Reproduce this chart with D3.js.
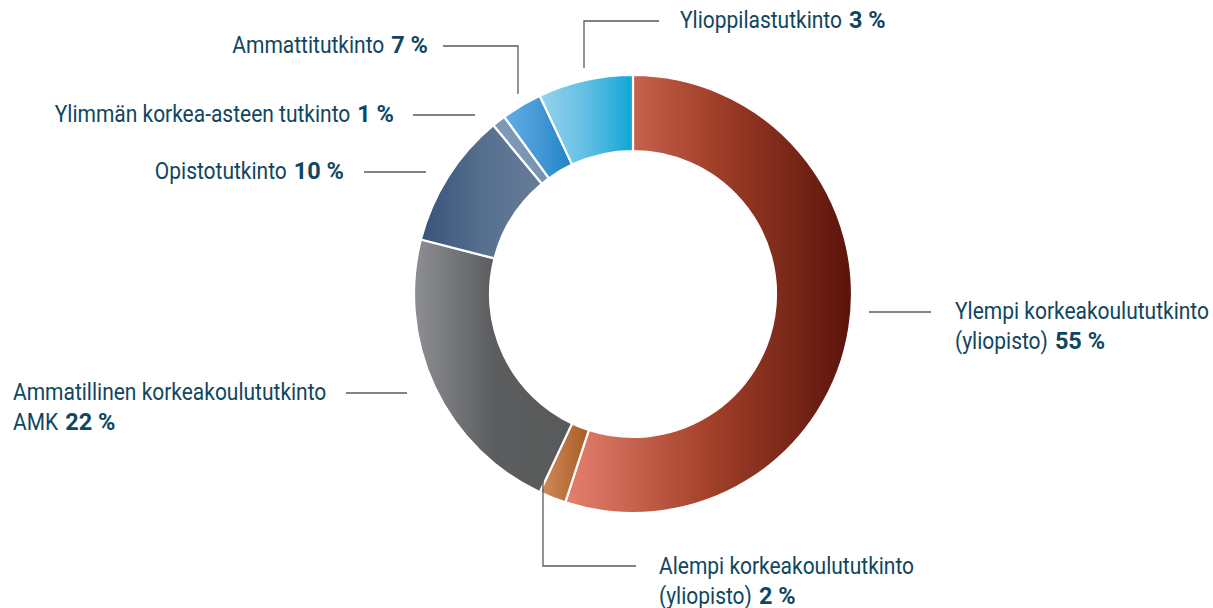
<!DOCTYPE html>
<html><head><meta charset="utf-8">
<script src="https://cdn.jsdelivr.net/npm/d3@7"></script>
<style>
html,body{margin:0;padding:0;background:#fff;}
svg{display:block;}
text{font-family:Roboto,"Liberation Sans",sans-serif;fill:#0f4660;}
</style></head>
<body>
<svg id="chart" width="1213" height="608"></svg>
<script>
// Data (clockwise from 12 o'clock)
const categories = ["Ylempi korkeakoulututkinto (yliopisto)","Alempi korkeakoulututkinto (yliopisto)","Ammatillinen korkeakoulututkinto AMK","Opistotutkinto","Ylimmän korkea-asteen tutkinto","Ammattitutkinto","Ylioppilastutkinto"];
const values = [55, 2, 22, 10, 1, 3, 7];               // slice sizes as drawn
const percentLabels = ["55 %","2 %","22 %","10 %","1 %","7 %","3 %"]; // as printed
const labelLines = [
  ["Ylempi korkeakoulututkinto", "(yliopisto)"],
  ["Alempi korkeakoulututkinto", "(yliopisto)"],
  ["Ammatillinen korkeakoulututkinto", "AMK"],
  ["Opistotutkinto"],
  ["Ylimmän korkea-asteen tutkinto"],
  ["Ammattitutkinto"],
  ["Ylioppilastutkinto"]
];
const gradients = [
  ["#e5806e","#a3412a","#5a130b"],
  ["#d28c5a","#bd7440","#a65e28"],
  ["#8e8f94","#5c5d5f","#58595b"],
  ["#38527a","#566f8e","#667d99"],
  ["#7d9bb9","#7b97b4","#7792ae"],
  ["#62aee4","#4599d6","#1e84c6"],
  ["#96d3ec","#62bfe3","#0ea7d5"]
];

// layout for labels: leader polyline (relative to chart centre) and text anchor
const cx = 633, cy = 294, rOuter = 219, rInner = 143;
const labelLayout = [
  {pts:[[236,18],[298,18]], tx:322, ty:25, anchor:"start"},
  {pts:[[-90,131],[-90,272],[3,272]], tx:26, ty:280, anchor:"start"},
  {pts:[[-226,99],[-287,99]], tx:-620, ty:106, anchor:"start"},
  {pts:[[-207,-122],[-269,-122]], tx:-289, ty:-115, anchor:"end"},
  {pts:[[-158,-179],[-220,-179]], tx:-239, ty:-172, anchor:"end"},
  {pts:[[-115,-200],[-115,-248],[-190,-248]], tx:-205, ty:-241, anchor:"end"},
  {pts:[[-49,-226],[-49,-273],[26,-273]], tx:47, ty:-266, anchor:"start"}
];

const svg = d3.select("#chart");
const defs = svg.append("defs");
gradients.forEach((g,i)=>{
  const lg = defs.append("linearGradient").attr("id","g"+i)
    .attr("x1","0%").attr("x2","100%").attr("y1","0%").attr("y2","0%");
  lg.selectAll("stop").data(g).join("stop")
    .attr("offset",(d,j)=> (j/(g.length-1)*100)+"%")
    .attr("stop-color",d=>d);
});

const pie = d3.pie().sort(null).value(d=>d);
const arc = d3.arc().innerRadius(rInner).outerRadius(rOuter);
const g = svg.append("g").attr("transform",`translate(${cx},${cy})`);
g.selectAll("path.slice").data(pie(values)).join("path")
  .attr("class","slice")
  .attr("d",arc)
  .attr("fill",(d,i)=>`url(#g${i})`)
  .attr("stroke","#fff").attr("stroke-width",2.2).attr("stroke-linejoin","miter");

const line = d3.line();
const fs = 23.5, lh = 30, sxR = 0.893, sxB = 1.0, gap = 7;
labelLayout.forEach((L,i)=>{
  g.append("path").attr("d",line(L.pts)).attr("fill","none")
    .attr("stroke","#5a5a5a").attr("stroke-width",1.3);
  const lines = labelLines[i];
  lines.forEach((ln,k)=>{
    const lg = g.append("g");
    const tr = lg.append("text").attr("font-size",fs)
      .attr("transform",`scale(${sxR},1)`).text(ln);
    let w = tr.node().getComputedTextLength()*sxR;
    if(k===lines.length-1){
      const tb = lg.append("text").attr("font-size",fs).attr("font-weight",700)
        .attr("transform",`translate(${w+gap},0) scale(${sxB},1)`).text(percentLabels[i]);
      w += gap + tb.node().getComputedTextLength()*sxB;
    }
    const x0 = L.anchor==="end" ? L.tx - w : L.tx;
    lg.attr("transform",`translate(${x0},${L.ty + k*lh})`);
  });
});
</script>
</body></html>
